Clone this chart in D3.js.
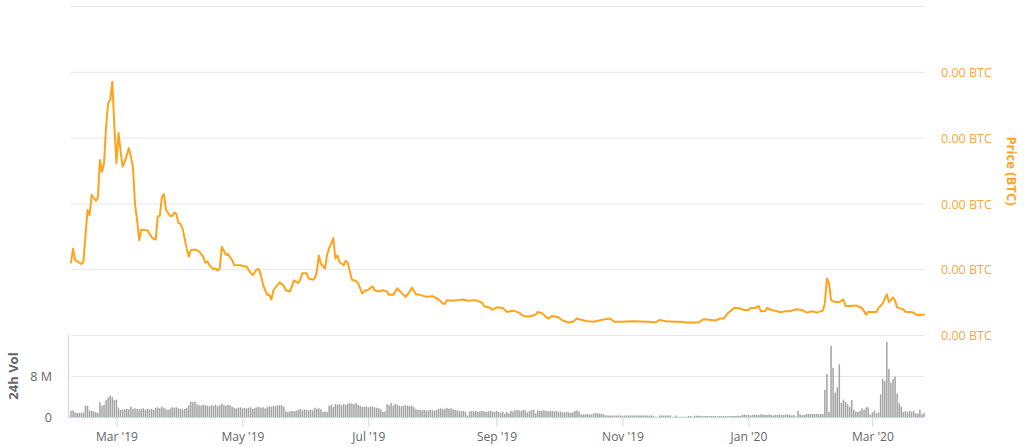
<!DOCTYPE html>
<html><head><meta charset="utf-8">
<script src="https://cdn.jsdelivr.net/npm/d3@7"></script>
<style>
body{margin:0;background:#fff;}
svg{display:block;font-family:"Open Sans",sans-serif;}
</style>
</head><body>
<svg id="c" width="1024" height="447"></svg>
<script>
// ---- DATA (price in units of 1e-6 BTC) ----
const priceSeries = [
["2019-02-07",1.10],["2019-02-08",1.31],["2019-02-09",1.14],["2019-02-12",1.08],["2019-02-13",1.11],
["2019-02-15",1.90],["2019-02-16",1.82],["2019-02-17",2.13],["2019-02-19",2.04],["2019-02-20",2.08],
["2019-02-21",2.66],["2019-02-22",2.48],["2019-02-23",2.61],["2019-02-24",3.17],["2019-02-25",3.53],
["2019-02-26",3.57],["2019-02-27",3.85],["2019-02-28",3.17],
["2019-03-01",2.61],["2019-03-02",3.07],["2019-03-03",2.79],["2019-03-04",2.56],["2019-03-05",2.63],
["2019-03-07",2.84],["2019-03-08",2.71],["2019-03-09",2.55],["2019-03-10",1.98],["2019-03-11",1.75],
["2019-03-12",1.44],["2019-03-13",1.60],["2019-03-16",1.59],["2019-03-18",1.49],["2019-03-19",1.46],
["2019-03-20",1.45],["2019-03-21",1.80],["2019-03-22",1.81],["2019-03-23",2.10],["2019-03-24",2.14],
["2019-03-25",1.90],["2019-03-27",1.81],["2019-03-28",1.81],["2019-03-29",1.86],["2019-03-30",1.84],
["2019-03-31",1.70],
["2019-04-01",1.69],["2019-04-02",1.62],["2019-04-03",1.47],["2019-04-04",1.32],["2019-04-05",1.19],
["2019-04-06",1.29],["2019-04-08",1.30],["2019-04-10",1.27],["2019-04-12",1.19],["2019-04-13",1.10],
["2019-04-14",1.12],["2019-04-15",1.06],["2019-04-17",1.00],["2019-04-18",1.01],["2019-04-19",0.98],
["2019-04-20",1.01],["2019-04-21",1.34],["2019-04-23",1.22],["2019-04-24",1.23],["2019-04-26",1.14],
["2019-04-27",1.06],["2019-04-30",1.06],
["2019-05-02",1.04],["2019-05-03",1.04],["2019-05-05",0.94],["2019-05-06",0.91],["2019-05-08",1.00],
["2019-05-09",1.00],["2019-05-10",0.90],["2019-05-11",0.76],["2019-05-13",0.61],["2019-05-14",0.61],
["2019-05-15",0.54],["2019-05-16",0.68],["2019-05-19",0.80],["2019-05-21",0.75],["2019-05-22",0.68],
["2019-05-24",0.66],["2019-05-26",0.83],["2019-05-28",0.79],["2019-05-29",0.84],["2019-05-30",0.94],
["2019-06-01",0.94],["2019-06-02",0.86],["2019-06-04",0.84],["2019-06-05",0.86],["2019-06-06",0.96],
["2019-06-07",1.21],["2019-06-08",1.08],["2019-06-10",1.01],["2019-06-11",1.22],["2019-06-12",1.32],
["2019-06-14",1.47],["2019-06-15",1.16],["2019-06-16",1.21],["2019-06-17",1.11],["2019-06-19",1.06],
["2019-06-20",1.13],["2019-06-21",1.10],["2019-06-23",0.84],["2019-06-25",0.82],["2019-06-26",0.79],
["2019-06-28",0.63],["2019-06-29",0.67],
["2019-07-01",0.69],["2019-07-03",0.74],["2019-07-04",0.68],["2019-07-06",0.66],["2019-07-08",0.68],
["2019-07-10",0.66],["2019-07-11",0.61],["2019-07-13",0.61],["2019-07-15",0.71],["2019-07-17",0.64],
["2019-07-19",0.58],["2019-07-21",0.66],["2019-07-22",0.72],["2019-07-24",0.62],["2019-07-26",0.61],
["2019-07-29",0.58],
["2019-08-01",0.59],["2019-08-04",0.54],["2019-08-06",0.48],["2019-08-07",0.47],["2019-08-08",0.53],
["2019-08-10",0.52],["2019-08-13",0.53],["2019-08-16",0.54],["2019-08-18",0.52],["2019-08-22",0.53],
["2019-08-25",0.49],["2019-08-26",0.44],["2019-08-29",0.41],["2019-08-30",0.38],
["2019-09-01",0.42],["2019-09-04",0.41],["2019-09-06",0.35],["2019-09-09",0.37],["2019-09-12",0.34],
["2019-09-14",0.29],["2019-09-17",0.28],["2019-09-20",0.31],["2019-09-21",0.35],["2019-09-23",0.33],
["2019-09-26",0.25],["2019-09-28",0.29],
["2019-10-01",0.27],["2019-10-03",0.22],["2019-10-06",0.19],["2019-10-08",0.20],["2019-10-10",0.25],
["2019-10-11",0.24],["2019-10-15",0.21],["2019-10-18",0.20],["2019-10-22",0.23],["2019-10-26",0.25],
["2019-10-28",0.20],["2019-10-31",0.20],
["2019-11-06",0.21],["2019-11-14",0.20],["2019-11-17",0.19],["2019-11-19",0.23],["2019-11-22",0.21],
["2019-11-27",0.20],["2019-11-29",0.20],
["2019-12-02",0.19],["2019-12-08",0.19],["2019-12-10",0.24],["2019-12-13",0.23],["2019-12-16",0.22],
["2019-12-18",0.25],["2019-12-20",0.25],["2019-12-22",0.33],["2019-12-25",0.41],["2019-12-27",0.41],
["2019-12-30",0.38],
["2020-01-01",0.38],["2020-01-02",0.41],["2020-01-04",0.41],["2020-01-06",0.44],["2020-01-07",0.36],
["2020-01-09",0.36],["2020-01-10",0.41],["2020-01-12",0.38],["2020-01-14",0.37],["2020-01-16",0.35],
["2020-01-17",0.35],["2020-01-19",0.36],["2020-01-21",0.36],["2020-01-24",0.39],["2020-01-27",0.38],
["2020-01-29",0.34],
["2020-02-01",0.36],["2020-02-03",0.34],["2020-02-06",0.37],["2020-02-07",0.48],["2020-02-08",0.86],
["2020-02-09",0.79],["2020-02-10",0.53],["2020-02-12",0.50],["2020-02-14",0.50],["2020-02-16",0.54],
["2020-02-17",0.44],["2020-02-19",0.44],["2020-02-22",0.45],["2020-02-25",0.41],["2020-02-27",0.31],
["2020-02-28",0.35],
["2020-03-03",0.35],["2020-03-04",0.41],["2020-03-06",0.48],["2020-03-08",0.62],["2020-03-09",0.50],
["2020-03-11",0.57],["2020-03-12",0.52],["2020-03-13",0.42],["2020-03-16",0.39],["2020-03-17",0.35],
["2020-03-20",0.35],["2020-03-23",0.30],["2020-03-26",0.31]
];

// Daily 24h volume (millions), one array per month, with each month's first date
const volumeMonthStarts = ["2019-02-07","2019-03-01","2019-04-01","2019-05-01","2019-06-01","2019-07-01","2019-08-01","2019-09-01","2019-10-01","2019-11-01","2019-12-01","2020-01-01","2020-02-01","2020-03-01"];
const volFeb19 = [1.2,1.3,0.9,0.8,0.8,0.8,0.9,2.2,2.2,1.3,1.2,1.1,0.9,0.8,2.9,2.2,2.4,3.3,3.8,4.2,3.9,3.3];
const volMar19 = [3.4,1.8,1.4,1.5,1.5,1.6,1.5,2.0,1.6,1.7,1.6,1.5,1.6,1.7,1.4,1.6,1.5,1.6,1.4,1.8,1.9,1.7,2.0,1.8,1.5,1.4,1.6,1.9,1.8,1.9,1.7];
const volApr19 = [1.6,1.5,1.6,1.7,2.3,3.0,2.9,3.0,2.5,2.3,2.2,2.4,2.3,2.2,2.1,2.3,2.2,2.4,2.1,2.3,2.6,2.3,2.2,2.4,2.3,2.0,1.8,1.7,1.8,1.9];
const volMay19 = [1.7,1.8,1.7,1.8,1.9,1.6,1.8,1.9,2.0,1.8,1.9,1.7,1.9,2.1,2.0,2.2,2.1,2.3,2.3,2.3,2.0,1.1,1.0,1.1,1.2,1.1,1.2,1.4,1.6,1.3,1.5];
const volJun19 = [1.4,1.3,1.4,1.3,1.8,1.6,1.7,1.5,1.0,1.1,1.0,2.2,2.4,2.0,2.5,2.4,2.5,2.3,2.5,2.4,2.6,2.7,2.6,2.5,2.7,2.4,2.2,2.0,2.0,2.1];
const volJul19 = [1.9,2.0,2.1,1.9,1.8,1.7,1.5,1.0,1.1,2.5,2.3,2.7,2.2,2.6,2.4,2.2,2.1,2.2,2.3,2.2,2.1,2.2,1.9,1.5,1.4,1.4,1.3,1.4,1.3,1.3,1.4];
const volAug19 = [1.3,1.2,1.4,1.6,1.7,1.5,1.6,1.8,1.6,1.7,1.5,1.4,1.3,1.2,1.1,1.2,1.0,0.3,1.1,1.2,1.1,1.2,1.0,1.1,1.2,1.1,1.0,1.1,1.2,1.1,1.0];
const volSep19 = [1.2,1.0,0.8,1.1,0.6,1.0,0.7,1.2,1.1,1.3,1.4,1.3,1.2,1.4,1.3,0.9,1.2,1.3,1.4,0.7,1.3,1.2,1.2,1.3,1.2,1.1,1.2,1.2,1.1,1.2];
const volOct19 = [1.0,1.1,0.9,0.9,1.0,0.9,0.8,0.9,1.2,1.3,1.1,0.5,0.5,0.5,0.6,0.5,0.5,0.7,0.8,0.7,0.7,0.6,0.5,0.3,0.3,0.3,0.3,0.3,0.3,0.3,0.3];
const volNov19 = [0.25,0.3,0.3,0.3,0.3,0.3,0.3,0.3,0.3,0.3,0.3,0.3,0.3,0.3,0.3,0.2,0.05,0.05,0.3,0.3,0.3,0.3,0.3,0.3,0.05,0.05,0.3,0.05,0.05,0.05];
const volDec19 = [0.05,0.05,0.2,0.2,0.05,0.25,0.25,0.25,0.2,0.15,0.2,0.2,0.15,0.2,0.2,0.2,0.15,0.2,0.2,0.2,0.2,0.15,0.2,0.2,0.2,0.2,0.25,0.2,0.4,0.5,0.4];
const volJan20 = [0.4,0.3,0.4,0.5,0.4,0.4,0.5,0.5,0.4,0.4,0.5,0.4,0.3,0.4,0.4,0.5,0.4,0.4,0.5,0.5,0.4,0.3,0.4,0.1,1.2,0.5,0.35,0.4,0.6,0.6,0.6];
const volFeb20 = [0.6,0.6,0.6,0.6,0.6,0.6,5.3,8.4,1.0,13.9,9.6,4.7,5.8,10.3,2.8,3.4,3.0,2.5,2.0,3.3,1.4,1.0,1.0,1.2,1.7,1.4,1.9,1.9,0.5];
const volMar20 = [0.9,1.2,0.7,0.9,4.4,7.4,7.0,14.7,9.4,6.7,7.4,7.9,4.6,2.7,2.0,1.0,1.2,0.9,1.2,1.0,1.2,0.7,0.7,1.4,0.5,0.8];
const volumeMonths = [volFeb19,volMar19,volApr19,volMay19,volJun19,volJul19,volAug19,volSep19,volOct19,volNov19,volDec19,volJan20,volFeb20,volMar20];

const priceTicks = [0,1,2,3,4,5];
const volumeTicks = [0,8,16];
const volumeTickLabels = ["0","8 M",""];
const xTickDates = ["2019-03-01","2019-05-01","2019-07-01","2019-09-01","2019-11-01","2020-01-01","2020-03-01"];
const xTickLabels = ["Mar '19","May '19","Jul '19","Sep '19","Nov '19","Jan '20","Mar '20"];

// ---- BUILD ----
const parse = d3.utcParse("%Y-%m-%d");
const price = priceSeries.map(([d,v]) => ({date: parse(d), value: v}));
const volume = [];
volumeMonths.forEach((arr, m) => {
  const start = parse(volumeMonthStarts[m]);
  arr.forEach((v, i) => volume.push({date: d3.utcDay.offset(start, i), value: v}));
});

const svg = d3.select("#c");
const orange = "#ffa31a";
const labelOrange = "#f7a740";
const grid = "#e6e6e6";
const axisBlue = "#ccd6eb";
const grey = "#666666";

const x = d3.scaleUtc().domain([parse("2019-02-07"), parse("2020-03-26")]).range([71, 924]);
const yP = d3.scaleLinear().domain([0,5]).range([335,6]);
const yV = d3.scaleLinear().domain([0,16]).range([417,335]);

// price gridlines + right labels
const pAxis = svg.append("g").attr("transform","translate(924,0)")
  .call(d3.axisRight(yP).tickValues(priceTicks).tickSize(-853).tickPadding(17)
    .tickFormat(d => d === 5 ? "" : d3.format(".2f")(d * 1e-6) + " BTC"));
pAxis.select(".domain").remove();
pAxis.selectAll(".tick line").attr("stroke", grid).attr("stroke-width", 1);
pAxis.selectAll(".tick text").attr("fill", labelOrange).attr("font-size", "12.5px")
  .attr("font-family","Open Sans, sans-serif").attr("dy","0.38em");

svg.append("text").attr("transform","translate(1007,171) rotate(90)")
  .attr("text-anchor","middle").attr("fill", orange).attr("font-weight","bold")
  .attr("font-size","13px").text("Price (BTC)");

// volume gridlines
const vAxis = svg.append("g").attr("transform","translate(71,0)")
  .call(d3.axisLeft(yV).tickValues(volumeTicks).tickSize(-853).tickPadding(19)
    .tickFormat((d,i) => volumeTickLabels[i]));
vAxis.select(".domain").remove();
vAxis.selectAll(".tick line").attr("stroke", d => d === 0 ? "none" : grid);
vAxis.selectAll(".tick text").attr("fill", grey).attr("font-size","12.5px")
  .attr("font-family","Open Sans, sans-serif").attr("dy","0.38em");

svg.append("text").attr("transform","translate(18,376) rotate(-90)")
  .attr("text-anchor","middle").attr("fill", grey).attr("font-weight","bold")
  .attr("font-size","13px").text("24h Vol");

// volume bars
const bw = 1.5;
svg.append("g").selectAll("rect").data(volume).join("rect")
  .attr("x", d => x(d.date) - bw/2)
  .attr("width", bw)
  .attr("y", d => yV(d.value))
  .attr("height", d => yV(0) - yV(d.value))
  .attr("fill", "#a3a3a3");

// left axis line of volume pane
svg.append("line").attr("x1",68.5).attr("x2",68.5).attr("y1",335).attr("y2",417)
  .attr("stroke", axisBlue);

// x axis
const xAxis = svg.append("g").attr("transform","translate(0,417.5)")
  .call(d3.axisBottom(x).tickValues(xTickDates.map(parse)).tickSize(9).tickPadding(6)
    .tickFormat((d,i) => xTickLabels[i]));
xAxis.select(".domain").attr("d","M68,0H924").attr("stroke", axisBlue);
xAxis.selectAll(".tick line").attr("stroke", axisBlue);
xAxis.selectAll(".tick text").attr("fill", grey).attr("font-size","12px")
  .attr("font-family","Open Sans, sans-serif");

// price line
svg.append("path").datum(price)
  .attr("fill","none").attr("stroke", orange).attr("stroke-width", 2)
  .attr("stroke-linejoin","round").attr("stroke-linecap","round")
  .attr("d", d3.line().x(d => x(d.date)).y(d => yP(d.value)));
</script>
</body></html>
